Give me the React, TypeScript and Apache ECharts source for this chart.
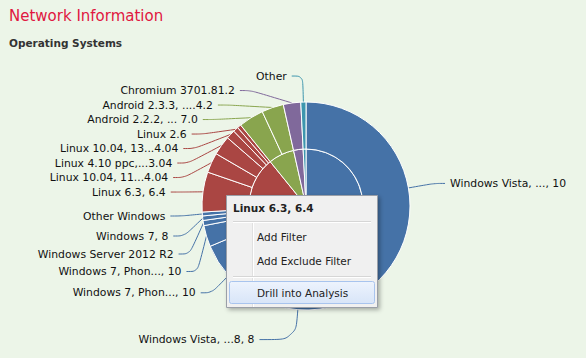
import React, { useEffect, useRef } from "react";
import * as echarts from "echarts";

const groupNames = ["Windows", "Linux", "Android", "Chromium", "Other"];
const groupColors = ["#4572A7", "#AA4643", "#89A54E", "#80699B", "#3D96AE"];

const versionNames = [
  "Windows Vista, ..., 10",
  "Windows Vista, ...8, 8",
  "Windows 7, Phon..., 10",
  "Windows 7, Phon..., 10 ",
  "Windows Server 2012 R2",
  "Windows 7, 8",
  "Other Windows",
  "Linux 6.3, 6.4",
  "Linux 10.04, 11...4.04",
  "Linux 4.10 ppc,...3.04",
  "Linux 10.04, 13...4.04",
  "Linux 2.6",
  "Other Linux",
  "Android 2.2.2, ... 7.0",
  "Android 2.3.3, ....4.2",
  "Chromium 3701.81.2",
  "Other",
];
const versionShares = [
  44.4, 13.6, 10.6, 3.3, 0.8, 0.7, 0.6,
  6.2, 3.1, 3.0, 1.4, 0.8, 0.6,
  3.9, 3.4,
  2.7,
  0.8,
];
const versionGroups = [0, 0, 0, 0, 0, 0, 0, 1, 1, 1, 1, 1, 1, 2, 2, 3, 4];
const hiddenLabels = ["Other Linux"];

const titleText = "Network Information";
const subtitleText = "Operating Systems";
const menuTitle = "Linux 6.3, 6.4";
const menuItems = ["Add Filter", "Add Exclude Filter", "Drill into Analysis"];

const FONT = "DejaVu Sans";

// extra top spacing for crowded labels (style only)
const labelTopPad: Record<number, number> = { 3: 3, 4: 3, 5: 4, 6: 7 };

export default function App() {
  const ref = useRef<HTMLDivElement>(null);
  useEffect(() => {
    document.body.style.margin = "0";
    const chart = echarts.init(ref.current!, null, { renderer: "svg" });

    const innerData = groupNames.map((name, gi) => ({
      name,
      value: +versionShares
        .filter((_, i) => versionGroups[i] === gi)
        .reduce((a, b) => a + b, 0)
        .toFixed(2),
      itemStyle: { color: groupColors[gi] },
    }));
    const outerData = versionNames.map((name, i) => {
      const hide = hiddenLabels.includes(name);
      const item: any = {
        name,
        value: versionShares[i],
        itemStyle: { color: groupColors[versionGroups[i]] },
      };
      if (hide) {
        item.label = { show: false };
        item.labelLine = { show: false };
      }
      if (labelTopPad[i]) {
        item.label = { padding: [labelTopPad[i], 0, 0, 0] };
      }
      if (i === 1) {
        item.labelLine = { length: 30, length2: 36 };
      }
      return item;
    });

    const menuFont = `10.5px "${FONT}"`;
    const Z = 50;
    chart.setOption({
      animation: false,
      backgroundColor: "#ecf5e8",
      title: [
        {
          text: titleText,
          left: 4,
          top: 3,
          textStyle: { color: "#e0173f", fontSize: 15, fontWeight: "normal", fontFamily: FONT },
        },
        {
          text: subtitleText,
          left: 4,
          top: 32,
          textStyle: { color: "#333", fontSize: 10.5, fontWeight: "bold", fontFamily: FONT },
        },
      ],
      series: [
        {
          type: "pie",
          center: [306, 206],
          radius: [0, 57],
          startAngle: 90,
          clockwise: true,
          label: { show: false },
          labelLine: { show: false },
          itemStyle: { borderColor: "#ffffff", borderWidth: 1 },
          emphasis: { disabled: true },
          data: innerData,
        },
        {
          type: "pie",
          center: [306, 206],
          radius: [57, 104],
          startAngle: 90,
          clockwise: true,
          minShowLabelAngle: 0,
          avoidLabelOverlap: true,
          itemStyle: { borderColor: "#ffffff", borderWidth: 1 },
          emphasis: { disabled: true },
          label: {
            show: true,
            color: "#111",
            fontSize: 10.8,
            lineHeight: 12.5,
            fontFamily: FONT,
            formatter: (p: any) => p.name.trim(),
          },
          labelLine: {
            show: true,
            length: 26,
            length2: 11,
            smooth: 0.35,
            lineStyle: { width: 1 },
          },
          data: outerData,
        },
      ],
      graphic: [
        {
          type: "rect",
          z: Z,
          shape: { x: 226.5, y: 195.5, width: 151, height: 112 },
          style: {
            fill: "#f0f0f0",
            stroke: "#9a9fa8",
            lineWidth: 1,
            shadowBlur: 4,
            shadowColor: "rgba(0,0,0,0.3)",
            shadowOffsetX: 2,
            shadowOffsetY: 2,
          },
        },
        {
          type: "text",
          z: Z + 1,
          x: 233,
          y: 208,
          style: { text: menuTitle, font: `bold ${menuFont}`, fill: "#222", verticalAlign: "middle" },
        },
        { type: "line", z: Z + 1, shape: { x1: 233, y1: 221.5, x2: 371, y2: 221.5 }, style: { stroke: "#d6d6d6", lineWidth: 1 } },
        { type: "line", z: Z + 1, shape: { x1: 233, y1: 222.5, x2: 371, y2: 222.5 }, style: { stroke: "#ffffff", lineWidth: 1 } },
        { type: "line", z: Z + 1, shape: { x1: 252.5, y1: 223, x2: 252.5, y2: 307 }, style: { stroke: "#e0e0e0", lineWidth: 1 } },
        { type: "line", z: Z + 1, shape: { x1: 253.5, y1: 223, x2: 253.5, y2: 307 }, style: { stroke: "#ffffff", lineWidth: 1 } },
        {
          type: "text",
          z: Z + 1,
          x: 257,
          y: 237,
          style: { text: menuItems[0], font: menuFont, fill: "#222", verticalAlign: "middle" },
        },
        {
          type: "text",
          z: Z + 1,
          x: 257,
          y: 261,
          style: { text: menuItems[1], font: menuFont, fill: "#222", verticalAlign: "middle" },
        },
        { type: "line", z: Z + 1, shape: { x1: 233, y1: 276.5, x2: 371, y2: 276.5 }, style: { stroke: "#d6d6d6", lineWidth: 1 } },
        { type: "line", z: Z + 1, shape: { x1: 233, y1: 277.5, x2: 371, y2: 277.5 }, style: { stroke: "#ffffff", lineWidth: 1 } },
        {
          type: "rect",
          z: Z + 2,
          shape: { x: 229.5, y: 281.5, width: 145, height: 22, r: 2 },
          style: {
            fill: new echarts.graphic.LinearGradient(0, 0, 0, 1, [
              { offset: 0, color: "#edf3fd" },
              { offset: 1, color: "#d8e5f8" },
            ]),
            stroke: "#a8c4ee",
            lineWidth: 1,
          },
        },
        {
          type: "text",
          z: Z + 3,
          x: 257,
          y: 293,
          style: { text: menuItems[2], font: menuFont, fill: "#222", verticalAlign: "middle" },
        },
      ],
    });
    return () => chart.dispose();
  }, []);
  return <div ref={ref} style={{ width: 586, height: 358 }} />;
}
